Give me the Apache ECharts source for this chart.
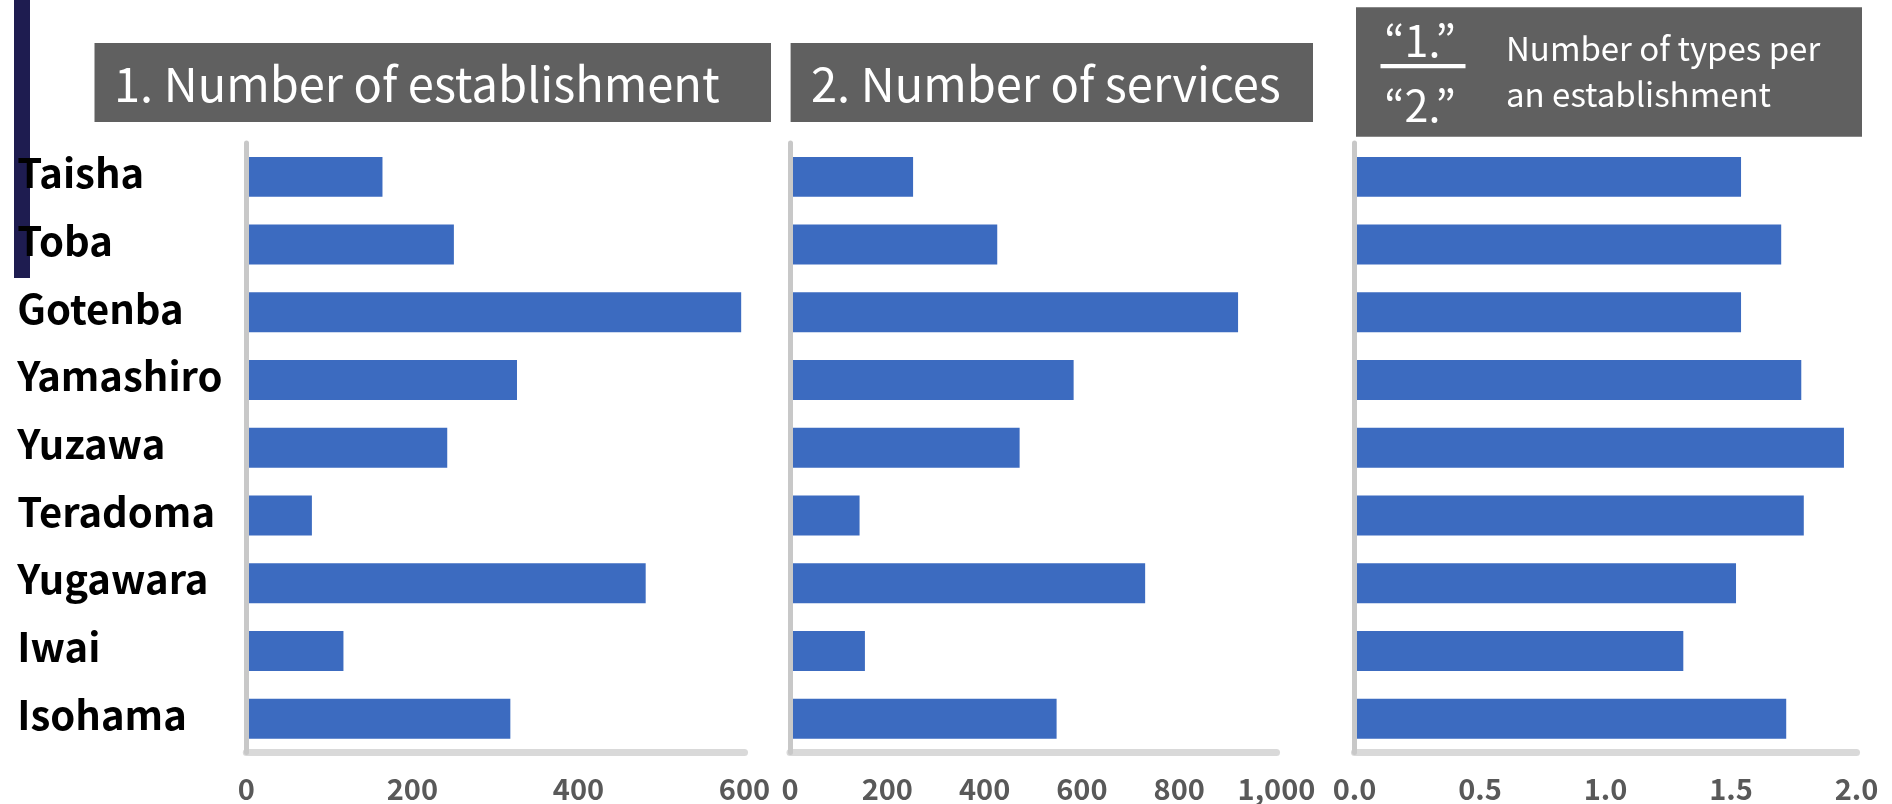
<!DOCTYPE html>
<html>
<head>
<meta charset="utf-8">
<script src="https://cdn.jsdelivr.net/npm/echarts@6/dist/echarts.min.js"></script>
<style>
html,body{margin:0;padding:0;background:#fff;}
#chart{width:1892px;height:804px;}
</style>
</head>
<body>
<div id="chart"></div>
<script>
const categories = ['Taisha','Toba','Gotenba','Yamashiro','Yuzawa','Teradoma','Yugawara','Iwai','Isohama'];
const establishments = [164, 250, 596, 326, 242, 79, 481, 117, 318];
const services = [253, 426, 921, 583, 472, 143, 730, 154, 548];
const typesPerEstablishment = [1.54, 1.70, 1.54, 1.78, 1.95, 1.79, 1.52, 1.31, 1.72];
const title1 = '1. Number of establishment';
const title2 = '2. Number of services';
const fracTop = '\u201C1.\u201D';
const fracBottom = '\u201C2.\u201D';
const title3Lines = ['Number of types per', 'an establishment'];

const FONT = '"Noto Sans CJK JP", "Noto Sans", sans-serif';
const BAR = '#3c6bc0';
const TICK = {fontFamily: FONT, fontSize: 29, fontWeight: 'bold', color: '#595959', margin: 22};

const chart = echarts.init(document.getElementById('chart'), null, {renderer: 'canvas'});

const grids = [
  {left: 246.3, width: 498.2, top: 143, height: 609.6},
  {left: 790, width: 486.5, top: 143, height: 609.6},
  {left: 1354.5, width: 502, top: 143, height: 609.6}
];

function xAxisDef(i, max, interval, fmt) {
  return {
    type: 'value', gridIndex: i, min: 0, max: max, interval: interval,
    axisLine: {show: true, onZero: false, lineStyle: {color: '#d9d9d9', width: 7}},
    axisTick: {show: false},
    splitLine: {show: false},
    axisLabel: Object.assign({formatter: fmt}, TICK)
  };
}
function yAxisDef(i, showLabels) {
  return {
    type: 'category', gridIndex: i, data: categories, inverse: true, z: 3,
    axisLine: {show: true, lineStyle: {color: '#c8c8c8', width: 5}},
    axisTick: {show: false},
    axisLabel: showLabels ? {
      show: true, align: 'left', verticalAlign: 'bottom', lineHeight: 8,
      margin: 229, fontFamily: FONT, fontSize: 40, fontWeight: 'bold', color: '#000'
    } : {show: false}
  };
}

const option = {
  backgroundColor: '#ffffff',
  animation: false,
  grid: grids,
  xAxis: [
    xAxisDef(0, 600, 200, v => String(v)),
    xAxisDef(1, 1000, 200, v => v.toLocaleString('en-US')),
    xAxisDef(2, 2, 0.5, v => v.toFixed(1))
  ],
  yAxis: [yAxisDef(0, true), yAxisDef(1, false), yAxisDef(2, false)],
  series: [
    {type: 'bar', xAxisIndex: 0, yAxisIndex: 0, data: establishments, barCategoryGap: '41%', itemStyle: {color: BAR}},
    {type: 'bar', xAxisIndex: 1, yAxisIndex: 1, data: services, barCategoryGap: '41%', itemStyle: {color: BAR}},
    {type: 'bar', xAxisIndex: 2, yAxisIndex: 2, data: typesPerEstablishment, barCategoryGap: '41%', itemStyle: {color: BAR}}
  ],
  graphic: [
    {type: 'rect', z: -1, shape: {x: 14, y: 0, width: 16, height: 278}, style: {fill: '#1e1c50'}},
    {type: 'rect', shape: {x: 94.5, y: 43, width: 676.5, height: 79}, style: {fill: '#606060'}},
    {type: 'text', x: 114, y: 84, style: {text: title1, fill: '#fff', font: '47px ' + FONT, verticalAlign: 'middle', align: 'left'}},
    {type: 'rect', shape: {x: 790.6, y: 43, width: 522.4, height: 79}, style: {fill: '#606060'}},
    {type: 'text', x: 811, y: 84, style: {text: title2, fill: '#fff', font: '47px ' + FONT, verticalAlign: 'middle', align: 'left'}},
    {type: 'rect', shape: {x: 1356, y: 7.3, width: 506, height: 129.4}, style: {fill: '#606060'}},
    {type: 'text', x: 1420, y: 41, style: {text: fracTop, fill: '#fff', font: '43px ' + FONT, verticalAlign: 'middle', align: 'center'}},
    {type: 'rect', shape: {x: 1380.5, y: 64, width: 85, height: 4.3}, style: {fill: '#fff'}},
    {type: 'text', x: 1420, y: 106, style: {text: fracBottom, fill: '#fff', font: '43px ' + FONT, verticalAlign: 'middle', align: 'center'}},
    {type: 'text', x: 1506, y: 48, style: {text: title3Lines[0], fill: '#fff', font: '33px ' + FONT, verticalAlign: 'middle', align: 'left'}},
    {type: 'text', x: 1506, y: 94, style: {text: title3Lines[1], fill: '#fff', font: '33px ' + FONT, verticalAlign: 'middle', align: 'left'}}
  ]
};
chart.setOption(option);
</script>
</body>
</html>
